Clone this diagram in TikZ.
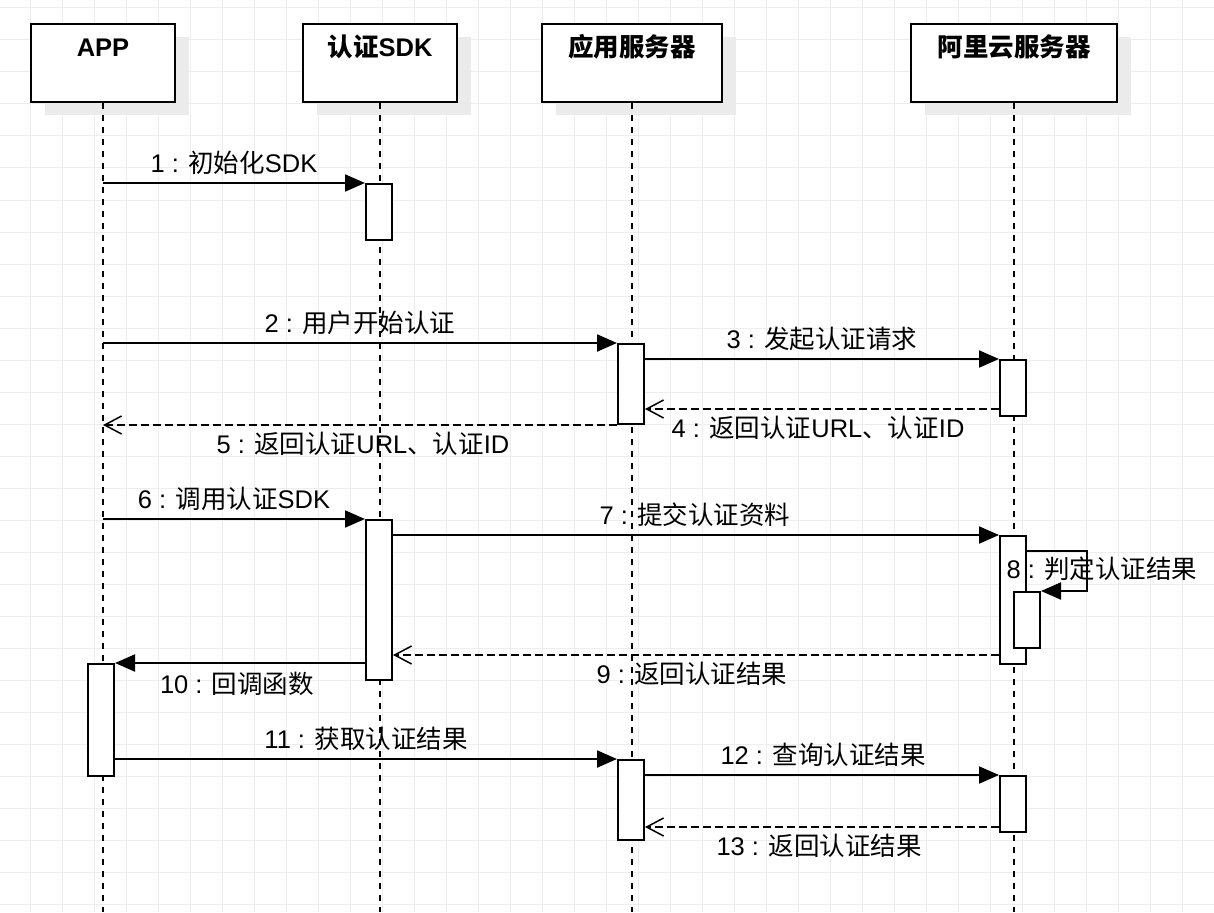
\documentclass[tikz,border=0pt]{standalone}
\usepackage{fontspec}
\setmainfont{Liberation Sans}
\newfontfamily\cjk{Noto Sans CJK SC}
\usepackage{tikz}
\usetikzlibrary{arrows.meta, shadows}
\definecolor{gridgray}{HTML}{EDEDED}
\definecolor{shadegray}{HTML}{EBEBEB}
\pgfmathsetmacro{\gridstep}{32}

\begin{document}
\begin{tikzpicture}[x=1pt, y=-1pt,
		gridline/.style={line width=1pt, gridgray},
		head/.style={draw, line width=2pt, fill=white, minimum width=#1, minimum height=78pt, inner sep=0pt,
			drop shadow={shadow xshift=14pt, shadow yshift=-13pt, fill=shadegray, opacity=1}},
		headtext/.style={anchor=base, inner sep=0pt, font=\fontsize{25.5}{30}\selectfont\bfseries},
		lifeline/.style={line width=2pt, dash pattern=on 6pt off 6pt},
		act/.style={draw, line width=2pt, fill=white, minimum width=26pt, minimum height=#1, inner sep=0pt, xshift=-1pt},
		call/.style={line width=2pt, arrows={-Triangle[length=20pt, width=17pt]}},
		reply/.style={line width=2pt, dash pattern=on 8pt off 4pt, arrows={-Straight Barb[length=17pt, width=18pt, line width=1.5pt]}},
		msglabel/.style={anchor=base, inner sep=0pt, font=\fontsize{25.5}{30}\selectfont}]
		\useasboundingbox (0,0) rectangle (1214,912);
		\foreach \k in {0,...,36} \draw[gridline] ({30.5+\k*\gridstep},0) -- ++(0,912);
		\foreach \k in {0,...,28} \draw[gridline] (0,{8+\k*\gridstep}) -- ++(1214,0);
		\coordinate (bottom) at (0,912);

		\node[head=144pt] (app) at (103,63) {};
		\node[head=154pt] (sdk) at (380,63) {};
		\node[head=180pt] (srv) at (632,63) {};
		\node[head=206pt] (ali) at (1014,63) {};
		\node[headtext] (applab) at ([yshift=-34pt]app.north) {APP};
		\node[headtext] (sdklab) at ([yshift=-34pt]sdk.north) {{\cjk 认证}SDK};
		\node[headtext] (srvlab) at ([yshift=-34pt]srv.north) {\cjk 应用服务器};
		\node[headtext] (alilab) at ([yshift=-34pt]ali.north) {\cjk 阿里云服务器};

		\draw[lifeline] (app.south) -- (app.south |- bottom);
		\draw[lifeline] (sdk.south) -- (sdk.south |- bottom);
		\draw[lifeline] (srv.south) -- (srv.south |- bottom);
		\draw[lifeline] (ali.south) -- (ali.south |- bottom);

		\node[act=56pt] (sdk1) at (sdk.south |- 0,212) {};
		\node[act=80pt] (srv1) at (srv.south |- 0,384) {};
		\node[act=56pt] (ali1) at (ali.south |- 0,388) {};
		\node[act=160pt] (sdk2) at (sdk.south |- 0,600) {};
		\node[act=128pt] (ali2) at (ali.south |- 0,600) {};
		\node[act=56pt] (ali3) at ([xshift=14pt]ali.south |- 0,620) {};
		\node[act=112pt] (app1) at ([xshift=-1pt]app.south |- 0,720) {};
		\node[act=80pt] (srv2) at (srv.south |- 0,800) {};
		\node[act=56pt] (ali4) at (ali.south |- 0,804) {};

		\coordinate (r4) at ([yshift=8pt]ali1.south west);
		\coordinate (r9) at ([yshift=10pt]ali2.south west);
		\coordinate (r13) at ([yshift=6pt]ali4.south west);
		\draw[call] (app.south |- sdk1.north) -- (sdk1.north west);
		\draw[call] (app.south |- srv1.north) -- (srv1.north west);
		\draw[call] (srv1.east |- ali1.north) -- (ali1.north west);
		\draw[reply] (r4) -- (srv1.east |- r4);
		\draw[reply] (srv1.south west) -- (app.south |- srv1.south);
		\draw[call] (app.south |- sdk2.north) -- (sdk2.north west);
		\draw[call] (sdk2.east |- ali2.north) -- (ali2.north west);
		\draw[call] ([yshift=-16pt]ali2.north east) -- ++(60,0) |- (ali3.north east);
		\draw[reply] (r9) -- (sdk2.east |- r9);
		\draw[call] (sdk2.west |- app1.north) -- (app1.north east);
		\draw[call] (app1.east |- srv2.north) -- (srv2.north west);
		\draw[call] (srv2.east |- ali4.north) -- (ali4.north west);
		\draw[reply] (r13) -- (srv2.east |- r13);

		\node[msglabel] (t1) at (234,172) {1 : {\cjk 初始化}SDK};
		\node[msglabel] (t2) at (360,332) {2 : {\cjk 用户开始认证}};
		\node[msglabel] (t3) at (822,348) {3 : {\cjk 发起认证请求}};
		\node[msglabel] (t4) at (818,437) {4 : {\cjk 返回认证}URL{\cjk 、认证}ID};
		\node[msglabel] (t5) at (363,453) {5 : {\cjk 返回认证}URL{\cjk 、认证}ID};
		\node[msglabel] (t6) at (234,508) {6 : {\cjk 调用认证}SDK};
		\node[msglabel] (t7) at (695,524) {7 : {\cjk 提交认证资料}};
		\node[msglabel] (t8) at (1102,578) {8 : {\cjk 判定认证结果}};
		\node[msglabel] (t9) at (692,683) {9 : {\cjk 返回认证结果}};
		\node[msglabel] (t10) at (237,693) {10 : {\cjk 回调函数}};
		\node[msglabel] (t11) at (366,748) {11 : {\cjk 获取认证结果}};
		\node[msglabel] (t12) at (823,764) {12 : {\cjk 查询认证结果}};
		\node[msglabel] (t13) at (819,855) {13 : {\cjk 返回认证结果}};
	\end{tikzpicture}
\end{document}
